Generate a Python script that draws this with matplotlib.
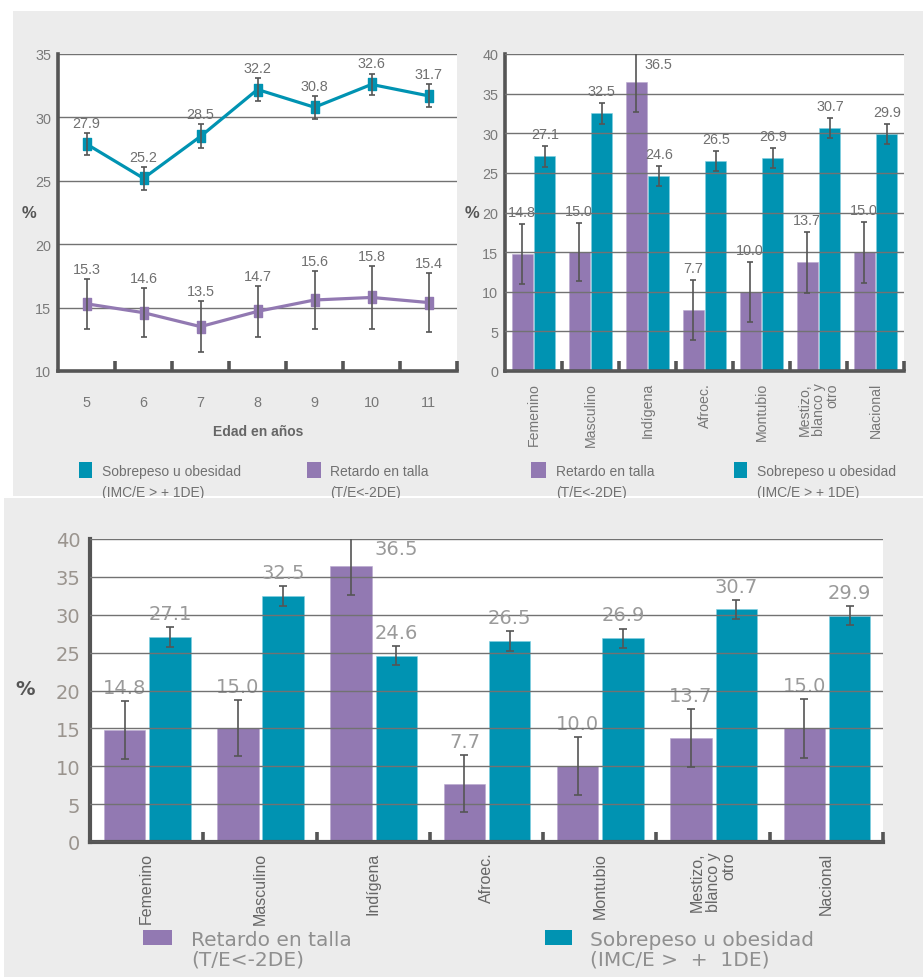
import matplotlib
matplotlib.use("Agg")
import matplotlib.pyplot as plt
import numpy as np
from matplotlib.patches import Rectangle

# ---------------- data ----------------
edades = ["5", "6", "7", "8", "9", "10", "11"]
sobrepeso_edad = [27.9, 25.2, 28.5, 32.2, 30.8, 32.6, 31.7]
sobrepeso_edad_err = [0.85, 0.9, 0.95, 0.9, 0.9, 0.85, 0.9]
retardo_edad = [15.3, 14.6, 13.5, 14.7, 15.6, 15.8, 15.4]
retardo_edad_err = [1.95, 1.95, 2.0, 2.0, 2.25, 2.45, 2.3]

grupos = ["Femenino", "Masculino", "Indígena", "Afroec.", "Montubio",
          "Mestizo,\nblanco y\notro", "Nacional"]
retardo_grupo = [14.8, 15.0, 36.5, 7.7, 10.0, 13.7, 15.0]
retardo_grupo_err = [3.8, 3.7, 3.85, 3.8, 3.8, 3.85, 3.85]
sobrepeso_grupo = [27.1, 32.5, 24.6, 26.5, 26.9, 30.7, 29.9]
sobrepeso_grupo_err = [1.3, 1.3, 1.25, 1.3, 1.25, 1.25, 1.25]

leg_retardo = ["Retardo en talla", "(T/E<-2DE)"]
leg_sobrepeso = ["Sobrepeso u obesidad", "(IMC/E > + 1DE)"]
leg_retardo_b = ["Retardo en talla", "(T/E<-2DE)"]
leg_sobrepeso_b = ["Sobrepeso u obesidad", "(IMC/E >  +  1DE)"]

# ---------------- style ----------------
TEAL = "#0093b2"
PURPLE = "#9279b2"
PANEL = "#ececec"
SPINE = "#555555"
GRID = "#727272"
ERR = "#555555"

W, H, DPI = 923, 979, 100
SANS = ["Liberation Sans", "DejaVu Sans"]
WIDE = ["DejaVu Sans"]

fig = plt.figure(figsize=(W / DPI, H / DPI), dpi=DPI, facecolor="white")


def fx(x):
    return x / W


def fy(y):
    return 1 - y / H


def axes_at(left, top, right, bottom):
    return fig.add_axes([fx(left), fy(bottom), (right - left) / W, (bottom - top) / H])


def panel(x0, y0, x1, y1, z):
    fig.add_artist(Rectangle((fx(x0), fy(y1)), (x1 - x0) / W, (y1 - y0) / H,
                             transform=fig.transFigure, facecolor=PANEL,
                             edgecolor="none", zorder=z))


def legend_item(box, color, tx, ty, lines, fam, size, tcolor, dy, z):
    x0, y0, x1, y1 = box
    fig.add_artist(Rectangle((fx(x0), fy(y1)), (x1 - x0) / W, (y1 - y0) / H,
                             transform=fig.transFigure, facecolor=color,
                             edgecolor="none", zorder=z))
    for k, t in enumerate(lines):
        fig.text(fx(tx), fy(ty + k * dy), t, ha="left", va="center",
                 family=fam, fontsize=size, color=tcolor, zorder=z)


def style_axes(ax, ylim, yticks, tick_fam, tick_size, tick_color, ypad,
               spine_w=2.6, tick_len=7):
    ax.set_facecolor("white")
    ax.set_ylim(*ylim)
    ax.set_xlim(-0.5, 6.5)
    ax.set_yticks(yticks)
    ax.yaxis.grid(True, color=GRID, lw=1.0)
    ax.xaxis.grid(False)
    for s in ("top", "right"):
        ax.spines[s].set_visible(False)
    for s in ("left", "bottom"):
        ax.spines[s].set_color(SPINE)
        ax.spines[s].set_linewidth(spine_w)
    ax.tick_params(axis="y", length=0, pad=ypad, labelcolor=tick_color,
                   labelsize=tick_size)
    for t in ax.get_yticklabels():
        t.set_family(tick_fam)
    ax.set_xticks(np.arange(0.5, 7.0, 1.0), minor=True)
    ax.tick_params(axis="x", which="minor", direction="in", length=tick_len,
                   width=2.6, color=SPINE)


def category_labels(ax, size, color, pad, spacing):
    ax.set_xticks(np.arange(len(grupos)), grupos)
    ax.tick_params(axis="x", which="major", length=0, pad=pad)
    for t in ax.get_xticklabels():
        t.set_family(SANS)
        t.set_fontsize(size)
        t.set_color(color)
        t.set_rotation(90)
        t.set_va("top")
        t.set_ha("center")
        t.set_multialignment("right")
        t.set_linespacing(spacing)


panel(13, 12, W, 497, -5)
panel(4, 499, W, 978, -1)

# ---------------- line chart by age ----------------
ax1 = axes_at(58, 55, 457, 372)
style_axes(ax1, (10, 35), [10, 15, 20, 25, 30, 35], SANS, 10.4, "#7a7a7a", 5)
xa = np.arange(len(edades))
ax1.set_xticks(xa, edades)
ax1.tick_params(axis="x", which="major", length=0, pad=17, labelcolor="#777777",
                labelsize=10.4)
for t in ax1.get_xticklabels():
    t.set_family(SANS)

RECT = [(-0.6, -1), (0.6, -1), (0.6, 1), (-0.6, 1), (-0.6, -1)]
for vals, errs, col in ((sobrepeso_edad, sobrepeso_edad_err, TEAL),
                        (retardo_edad, retardo_edad_err, PURPLE)):
    ax1.plot(xa, vals, color=col, lw=2.3, marker=RECT, ms=8.5, mfc=col, mec=col,
             zorder=3, solid_joinstyle="round")
    ax1.errorbar(xa, vals, yerr=errs, fmt="none", ecolor=ERR, elinewidth=1.2,
                 capsize=2.2, capthick=1.2, zorder=4)
    for xi, v, e in zip(xa, vals, errs):
        ax1.annotate(f"{v:.1f}", (xi, v + e), xytext=(0, 4.5),
                     textcoords="offset points", ha="center", va="baseline",
                     family=SANS, fontsize=10.4, color="#707070", zorder=5)

fig.text(fx(29), fy(213), "%", ha="center", va="center", family=SANS,
         fontsize=12, fontweight="bold", color="#555555")
fig.text(fx(258), fy(432), "Edad en años", ha="center", va="center",
         family=SANS, fontsize=10, fontweight="bold", color="#666666")

legend_item((79, 463, 92, 479), TEAL, 102, 472, leg_sobrepeso, SANS,
            10, "#707070", 21, -3)
legend_item((307, 463, 321, 479), PURPLE, 330, 472, leg_retardo, SANS,
            10, "#707070", 21, -3)


# ---------------- grouped bar charts ----------------
def bar_chart(ax, width, off_p, off_t, capsize, lab_fam, lab_size, lab_color,
              lab_off, top_shift, top_off):
    xg = np.arange(len(grupos))
    ax.set_axisbelow(False)
    ax.bar(xg + off_p, retardo_grupo, width, color=PURPLE, edgecolor="#b8a9cf",
           lw=0.4, zorder=1)
    ax.bar(xg + off_t, sobrepeso_grupo, width, color=TEAL, edgecolor="#7fd0e2",
           lw=0.4, zorder=1)
    ax.errorbar(xg + off_p, retardo_grupo, yerr=retardo_grupo_err, fmt="none",
                ecolor=ERR, elinewidth=1.2, capsize=capsize, capthick=1.2, zorder=3)
    ax.errorbar(xg + off_t, sobrepeso_grupo, yerr=sobrepeso_grupo_err, fmt="none",
                ecolor=ERR, elinewidth=1.2, capsize=capsize, capthick=1.2, zorder=3)
    ymax = ax.get_ylim()[1]
    for xi, v, e in zip(xg, retardo_grupo, retardo_grupo_err):
        if v + e > ymax - 1:
            ax.annotate(f"{v:.1f}", (xi + off_p + top_shift, v), xytext=(0, top_off),
                        textcoords="offset points", ha="center", va="baseline",
                        family=lab_fam, fontsize=lab_size, color=lab_color,
                        zorder=0.9, annotation_clip=False)
        else:
            ax.annotate(f"{v:.1f}", (xi + off_p, v + e), xytext=(0, lab_off),
                        textcoords="offset points", ha="center", va="baseline",
                        family=lab_fam, fontsize=lab_size, color=lab_color,
                        zorder=0.9)
    for xi, v, e in zip(xg, sobrepeso_grupo, sobrepeso_grupo_err):
        ax.annotate(f"{v:.1f}", (xi + off_t, v + e), xytext=(0, lab_off),
                    textcoords="offset points", ha="center", va="baseline",
                    family=lab_fam, fontsize=lab_size, color=lab_color, zorder=4)


ax2 = axes_at(505, 55, 904, 372)
style_axes(ax2, (0, 40), list(range(0, 41, 5)), SANS, 10.4, "#7a7a7a", 5)
bar_chart(ax2, 0.37, -0.2, 0.2, 2.5, SANS, 10.4, "#707070", 5.5, 0.39, 10)
category_labels(ax2, 10.2, "#777777", 8, 0.95)

fig.text(fx(472), fy(213), "%", ha="center", va="center", family=SANS,
         fontsize=12, fontweight="bold", color="#555555")
legend_item((531, 463, 546, 479), PURPLE, 556, 472, leg_retardo, SANS,
            10, "#707070", 21, -3)
legend_item((734, 463, 747, 479), TEAL, 757, 472, leg_sobrepeso, SANS,
            10, "#707070", 21, -3)

# ---------------- large bar chart ----------------
ax3 = axes_at(90, 540, 883, 843)
style_axes(ax3, (0, 40), list(range(0, 41, 5)), WIDE, 14, "#9a948e", 7, spine_w=3)
bar_chart(ax3, 0.365, -0.195, 0.205, 3.2, WIDE, 14, "#9a9a9a", 6, 0.4, 8.5)
category_labels(ax3, 11.5, "#666666", 7, 1.05)

fig.text(fx(25), fy(690), "%", ha="center", va="center", family=WIDE,
         fontsize=14, fontweight="bold", color="#555555")
legend_item((143, 931, 172, 946), PURPLE, 191, 941, leg_retardo_b, WIDE,
            14.5, "#8f8f8f", 19, 2)
legend_item((545, 931, 572, 946), TEAL, 590, 941, leg_sobrepeso_b, WIDE,
            14.5, "#8f8f8f", 19, 2)

fig.savefig("out.png", dpi=DPI, facecolor="white")
